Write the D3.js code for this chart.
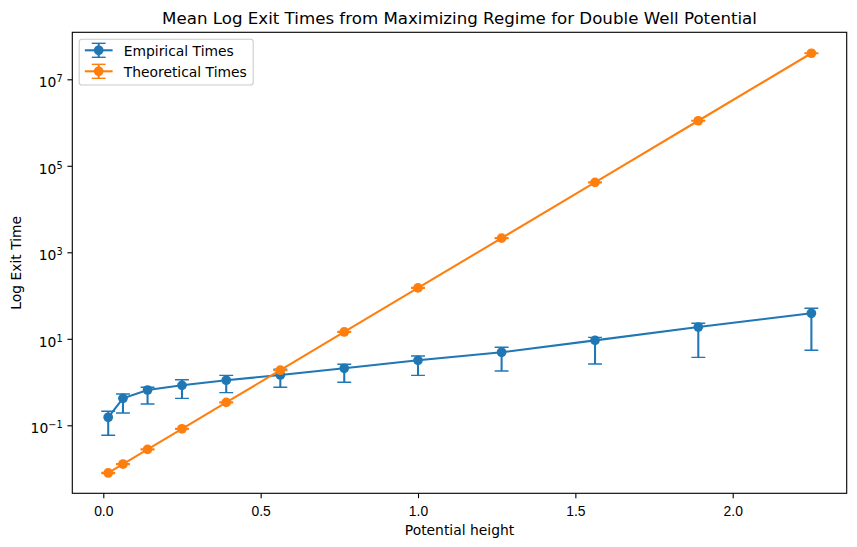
<!DOCTYPE html>
<html>
<head>
<meta charset="utf-8">
<script src="https://cdn.jsdelivr.net/npm/d3@7"></script>
<style>
  html, body { margin: 0; padding: 0; background: #fff; }
  svg { display: block; font-family: "DejaVu Sans", sans-serif; }
</style>
</head>
<body>
<svg id="chart" width="857" height="547"></svg>
<script>
// ---------------- data ----------------
const potentialHeight = [0.015625, 0.0625, 0.140625, 0.25, 0.390625, 0.5625, 0.765625, 1.0, 1.265625, 1.5625, 1.890625, 2.25];

const empiricalMean  = [0.153, 0.42, 0.655, 0.84, 1.10, 1.46, 2.08, 3.18, 4.88, 9.2, 18.7, 38.9];
const empiricalUpper = [0.211, 0.53, 0.756, 1.13, 1.43, 1.97, 2.57, 4.0, 6.36, 10.8, 22.8, 50.7];
const empiricalLower = [0.0587, 0.192, 0.311, 0.42, 0.568, 0.757, 0.986, 1.43, 1.80, 2.61, 3.73, 5.42];

const theoreticalMean  = [0.0079, 0.0127, 0.0278, 0.083, 0.338, 1.88, 14.4, 150, 2130, 41500, 1.1e6, 4.0e7];
const theoreticalUpper = [0.0081, 0.0130, 0.0284, 0.085, 0.345, 1.92, 14.7, 153, 2175, 42400, 1.12e6, 4.08e7];
const theoreticalLower = [0.0077, 0.0124, 0.0272, 0.081, 0.331, 1.84, 14.1, 147, 2085, 40600, 1.08e6, 3.92e7];

const xTicks = [0, 0.5, 1.0, 1.5, 2.0];
const xTickLabels = ["0.0", "0.5", "1.0", "1.5", "2.0"];
const yTicks = [1e-1, 1e1, 1e3, 1e5, 1e7];
const yTickExponents = ["\u22121", "1", "3", "5", "7"];

const seriesNames = ["Empirical Times", "Theoretical Times"];
const colors = ["#1f77b4", "#ff7f0e"];

const titleText = "Mean Log Exit Times from Maximizing Regime for Double Well Potential";
const xLabelText = "Potential height";
const yLabelText = "Log Exit Time";

// ---------------- layout ----------------
const L = 72.3, R = 846.7, T = 32.3, B = 493.3;
const svg = d3.select("#chart");

const x = d3.scaleLinear().domain([-0.0985, 2.3622]).range([L, R]);
const y = d3.scaleLog().domain([Math.pow(10, -2.5723), Math.pow(10, 8.0867)]).range([B, T]);

const lw = 2.08, capW = 1.39, cap = 6.94, mr = 4.86, tickLen = 4.86, spineW = 1.11;

// ---------------- series ----------------
const series = [
  { name: seriesNames[0], color: colors[0], mean: empiricalMean, lo: empiricalLower, hi: empiricalUpper },
  { name: seriesNames[1], color: colors[1], mean: theoreticalMean, lo: theoreticalLower, hi: theoreticalUpper }
];

const plot = svg.append("g");
svg.append("clipPath").attr("id", "clip").append("rect")
  .attr("x", L).attr("y", T).attr("width", R - L).attr("height", B - T);

const line = d3.line().x(d => x(d.x)).y(d => y(d.y));

series.forEach(s => {
  const pts = potentialHeight.map((px, i) => ({ x: px, y: s.mean[i], lo: s.lo[i], hi: s.hi[i] }));
  const g = plot.append("g").attr("clip-path", "url(#clip)");
  g.append("path").datum(pts).attr("d", line)
    .attr("fill", "none").attr("stroke", s.color).attr("stroke-width", lw);
  g.selectAll(".mk").data(pts).enter().append("circle")
    .attr("cx", d => x(d.x)).attr("cy", d => y(d.y)).attr("r", mr)
    .attr("fill", s.color);
  g.selectAll(".eb").data(pts).enter().append("line")
    .attr("x1", d => x(d.x)).attr("x2", d => x(d.x))
    .attr("y1", d => y(d.lo)).attr("y2", d => y(d.hi))
    .attr("stroke", s.color).attr("stroke-width", lw);
  ["lo", "hi"].forEach(k => {
    g.selectAll(".cap" + k).data(pts).enter().append("line")
      .attr("x1", d => x(d.x) - cap).attr("x2", d => x(d.x) + cap)
      .attr("y1", d => y(d[k])).attr("y2", d => y(d[k]))
      .attr("stroke", s.color).attr("stroke-width", capW);
  });
});

// ---------------- axes ----------------
const xAxis = svg.append("g").attr("transform", `translate(0,${B})`)
  .call(d3.axisBottom(x).tickValues(xTicks).tickFormat((d, i) => xTickLabels[i]).tickSize(tickLen).tickPadding(4.86));
xAxis.select(".domain").remove();
xAxis.selectAll(".tick line").attr("stroke", "#000").attr("stroke-width", spineW);
xAxis.selectAll(".tick text").attr("font-size", "13.89px").attr("fill", "#000")
  .attr("dy", null).attr("y", 22.3);

const yAxis = svg.append("g").attr("transform", `translate(${L},0)`)
  .call(d3.axisLeft(y).tickValues(yTicks).tickFormat("").tickSize(tickLen));
yAxis.select(".domain").remove();
yAxis.selectAll(".tick line").attr("stroke", "#000").attr("stroke-width", spineW);

yTicks.forEach((v, i) => {
  const t = svg.append("text")
    .attr("x", L - tickLen - 4.86)
    .attr("y", y(v) + 8.2)
    .attr("text-anchor", "end")
    .attr("fill", "#000");
  t.append("tspan").attr("font-size", "13.89px").text("10");
  t.append("tspan").attr("font-size", "9.72px").attr("dy", -5.2).text(yTickExponents[i]);
});

// spines
svg.append("rect").attr("x", L).attr("y", T).attr("width", R - L).attr("height", B - T)
  .attr("fill", "none").attr("stroke", "#000").attr("stroke-width", spineW);

// title & labels
svg.append("text").attr("x", (L + R) / 2).attr("y", 23.5).attr("text-anchor", "middle")
  .attr("font-size", "16.67px").attr("fill", "#000").text(titleText);
svg.append("text").attr("x", (L + R) / 2).attr("y", 535).attr("text-anchor", "middle")
  .attr("font-size", "13.89px").attr("fill", "#000").text(xLabelText);
svg.append("text").attr("transform", `translate(21,${(T + B) / 2}) rotate(-90)`)
  .attr("text-anchor", "middle").attr("font-size", "13.89px").attr("fill", "#000").text(yLabelText);

// ---------------- legend ----------------
const lg = svg.append("g");
lg.append("rect").attr("x", 79.2).attr("y", 39.3).attr("width", 174).attr("height", 45.7)
  .attr("rx", 2.8).attr("fill", "#fff").attr("fill-opacity", 0.8)
  .attr("stroke", "#cccccc").attr("stroke-width", 1.11);
series.forEach((s, i) => {
  const cy = 50.3 + i * 21;
  const hx0 = 84.8, hx1 = 112.6, hm = (hx0 + hx1) / 2;
  lg.append("line").attr("x1", hx0).attr("x2", hx1).attr("y1", cy).attr("y2", cy)
    .attr("stroke", s.color).attr("stroke-width", lw);
  lg.append("circle").attr("cx", hm).attr("cy", cy).attr("r", mr).attr("fill", s.color);
  lg.append("line").attr("x1", hm).attr("x2", hm).attr("y1", cy - 7).attr("y2", cy + 7)
    .attr("stroke", s.color).attr("stroke-width", lw);
  [-7, 7].forEach(o => lg.append("line").attr("x1", hm - cap).attr("x2", hm + cap)
    .attr("y1", cy + o).attr("y2", cy + o).attr("stroke", s.color).attr("stroke-width", capW));
  lg.append("text").attr("x", 123.7).attr("y", cy + 5.3).attr("font-size", "13.89px")
    .attr("fill", "#000").text(s.name);
});
</script>
</body>
</html>
